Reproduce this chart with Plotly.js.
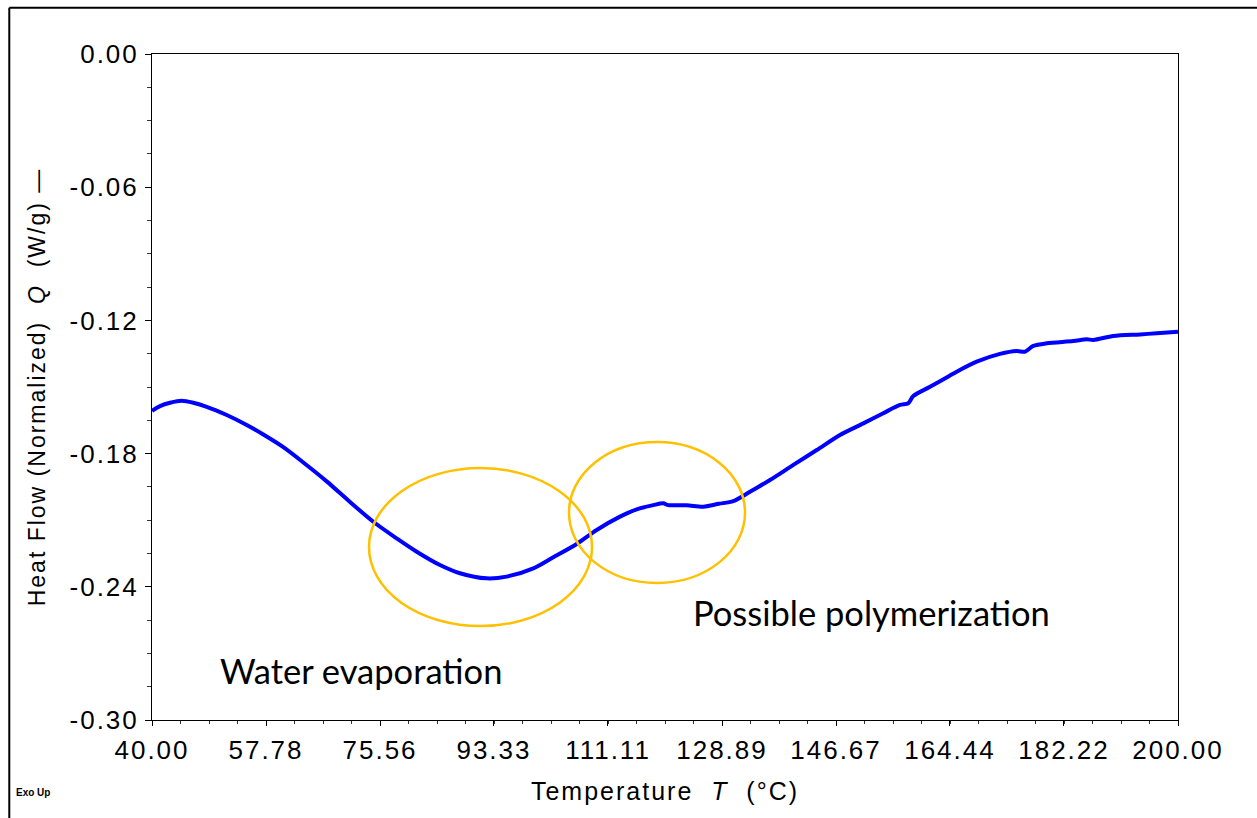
<!DOCTYPE html>
<html>
<head>
<meta charset="utf-8">
<script src="https://cdn.plot.ly/plotly-3.0.1.min.js"></script>
<style>
  html, body { margin: 0; padding: 0; background: #ffffff; }
  #chart { width: 1257px; height: 818px; }
  /* instrument-software style: wide-tracked Arial-like labels */
  .xtick text, .ytick text { letter-spacing: 2px; }
  .xtitle, .ytitle { letter-spacing: 2px; }
</style>
</head>
<body>
<div id="chart"></div>
<script>
// DSC scan: normalized heat flow vs temperature
const temperature = [40.0, 41.25, 42.81, 44.63, 46.44, 48.53, 51.65, 54.77, 57.36, 60.48,
  63.60, 67.24, 70.88, 74.51, 78.16, 81.28, 84.91, 88.03, 92.19, 95.31,
  99.46, 102.58, 106.23, 109.35, 112.98, 115.59, 118.18, 119.73, 120.51, 123.38,
  125.97, 128.4, 130.65, 133.25, 136.37, 140.01, 143.66, 147.29, 150.93, 154.04,
  156.65, 157.94, 158.72, 161.33, 164.33, 165.49, 168.61, 172.24, 174.85, 176.14,
  177.44, 179.53, 183.68, 185.77, 186.80, 189.92, 194.08, 196.68, 200.0];

const heatFlow = [-0.1607, -0.1586, -0.1571, -0.1562, -0.1571, -0.1589, -0.1626, -0.1671, -0.1714, -0.1771,
  -0.1840, -0.1925, -0.2018, -0.2107, -0.2182, -0.2242, -0.2302, -0.2339, -0.2362, -0.2354,
  -0.2317, -0.2267, -0.2207, -0.2144, -0.2084, -0.2051, -0.2032, -0.2024, -0.2032, -0.2033,
  -0.2039, -0.2026, -0.2014, -0.1972, -0.1919, -0.1851, -0.1784, -0.1716, -0.1664, -0.1618,
  -0.1581, -0.1573, -0.1541, -0.1499, -0.1450, -0.1431, -0.1386, -0.1351, -0.1338, -0.1341,
  -0.1315, -0.1303, -0.1293, -0.1285, -0.1288, -0.1270, -0.1263, -0.1258, -0.1251];

const xTickLabels = ["40.00", "57.78", "75.56", "93.33", "111.11", "128.89", "146.67", "164.44", "182.22", "200.00"];
const yTickLabels = ["0.00", "-0.06", "-0.12", "-0.18", "-0.24", "-0.30"];

// Highlighted regions (temperature span, heat-flow span)
const waterRegion = { x: [73.84, 108.62], y: [-0.1865, -0.2577] };
const polyRegion  = { x: [105.03, 132.48], y: [-0.1748, -0.2383] };

const sansFamily = "'Liberation Sans', Arial, sans-serif";
const tickFont  = { family: sansFamily, size: 26, color: "#000000" };
const titleFont = { family: sansFamily, size: 25, color: "#000000" };
const noteFont  = { family: "Lato, 'Open Sans', sans-serif", size: 34.5, color: "#000000" };
const ringColor = "#FFC000";

const trace = {
  x: temperature,
  y: heatFlow,
  type: "scatter",
  mode: "lines",
  line: { color: "#0000FF", width: 4, shape: "spline", smoothing: 0.8 },
  hoverinfo: "skip"
};

const layout = {
  width: 1257,
  height: 818,
  margin: { l: 152, r: 79, t: 54, b: 98 },
  paper_bgcolor: "#ffffff",
  plot_bgcolor: "#ffffff",
  showlegend: false,
  xaxis: {
    range: [40, 200],
    tickmode: "array",
    tickvals: xTickLabels.map(Number),
    ticktext: xTickLabels,
    ticks: "outside",
    ticklen: 5,
    tickwidth: 1,
    tickcolor: "#000000",
    ticklabelstandoff: 2,
    minor: { tickmode: "linear", tick0: 40, dtick: 160 / 36, ticks: "outside", ticklen: 3, tickcolor: "#333333" },
    showgrid: false,
    zeroline: false,
    showline: true,
    linecolor: "#000000",
    linewidth: 1,
    mirror: true,
    tickfont: tickFont,
    title: { text: "Temperature  <i>T</i>  (°C)", font: titleFont, standoff: 18 }
  },
  yaxis: {
    range: [-0.30, 0.00],
    tickmode: "array",
    tickvals: yTickLabels.map(Number),
    ticktext: yTickLabels,
    ticks: "outside",
    ticklen: 6,
    tickwidth: 1,
    tickcolor: "#000000",
    ticklabelstandoff: 1,
    minor: { tickmode: "linear", tick0: 0, dtick: 0.015, ticks: "outside", ticklen: 4, tickcolor: "#333333" },
    showgrid: false,
    zeroline: false,
    showline: true,
    linecolor: "#000000",
    linewidth: 1,
    mirror: true,
    tickfont: tickFont,
    title: { text: "Heat Flow (Normalized)  <i>Q</i>  (W/g) —", font: { family: sansFamily, size: 23, color: "#000000" }, standoff: 17 }
  },
  shapes: [
    { type: "circle", xref: "x", yref: "y", x0: waterRegion.x[0], x1: waterRegion.x[1], y0: waterRegion.y[0], y1: waterRegion.y[1],
      line: { color: ringColor, width: 2.5 }, fillcolor: "rgba(0,0,0,0)" },
    { type: "circle", xref: "x", yref: "y", x0: polyRegion.x[0], x1: polyRegion.x[1], y0: polyRegion.y[0], y1: polyRegion.y[1],
      line: { color: ringColor, width: 2.5 }, fillcolor: "rgba(0,0,0,0)" },
    // page frame (left and top edges)
    { type: "line", xref: "paper", yref: "paper", x0: -0.1391, x1: -0.1391, y0: -0.16, y1: 1.0695,
      line: { color: "#000000", width: 2 } },
    { type: "line", xref: "paper", yref: "paper", x0: -0.1391, x1: 1.08, y0: 1.0695, y1: 1.0695,
      line: { color: "#000000", width: 2 } }
  ],
  annotations: [
    { text: "Water evaporation", xref: "x", yref: "y", x: 50.3, y: -0.2775, xanchor: "left", yanchor: "middle",
      showarrow: false, font: noteFont },
    { text: "Possible polymerization", xref: "x", yref: "y", x: 124.1, y: -0.2514, xanchor: "left", yanchor: "middle",
      showarrow: false, font: noteFont },
    { text: "<b>Exo Up</b>", xref: "paper", yref: "paper", x: -0.1345, y: -0.1096, xanchor: "left", yanchor: "middle",
      showarrow: false, font: { family: sansFamily, size: 10, color: "#000000" } }
  ]
};

Plotly.newPlot("chart", [trace], layout, { displayModeBar: false, staticPlot: true });
</script>
</body>
</html>
